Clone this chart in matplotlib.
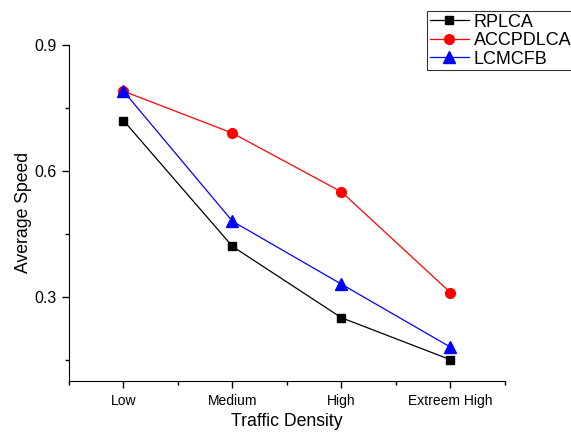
import matplotlib.pyplot as plt

plt.rcParams['font.family'] = ['Liberation Sans', 'DejaVu Sans']

categories = ['Low', 'Medium', 'High', 'Extreem High']
rplca = [0.72, 0.42, 0.25, 0.15]
accpdlca = [0.79, 0.69, 0.55, 0.31]
lcmcfb = [0.79, 0.48, 0.33, 0.18]

fig = plt.figure(figsize=(5.71, 4.34), dpi=100)
ax = fig.add_axes([0.1208, 0.1228, 0.7636, 0.7735])

x = range(len(categories))
ax.plot(x, rplca, '-s', color='black', linewidth=0.9, markersize=6, label='RPLCA')
ax.plot(x, accpdlca, '-o', color='red', linewidth=0.9, markersize=7, label='ACCPDLCA')
ax.plot(x, lcmcfb, '-^', color='blue', linewidth=0.9, markersize=8, label='LCMCFB')

ax.set_xlim(-0.5, 3.5)
ax.set_ylim(0.1, 0.9)
ax.set_xticks(list(x))
ax.set_xticklabels(categories)
ax.set_xticks([-0.5, 0.5, 1.5, 2.5, 3.5], minor=True)
ax.set_yticks([0.3, 0.6, 0.9])
ax.set_yticks([0.15, 0.45, 0.75], minor=True)
ax.spines['top'].set_visible(False)
ax.spines['right'].set_visible(False)
ax.tick_params(which='major', direction='out', length=5, width=1)
ax.tick_params(which='minor', direction='out', length=3, width=1)
ax.tick_params(axis='x', labelsize=10, pad=4.5)
ax.tick_params(axis='y', labelsize=11.5, pad=4)

ax.set_xlabel('Traffic Density', fontsize=12.7, labelpad=4)
ax.set_ylabel('Average Speed', fontsize=12.7, labelpad=1.5)

leg = fig.legend(loc='upper left', bbox_to_anchor=(427 / 571, 1 - 11 / 434),
                 fontsize=13, frameon=True, fancybox=False, edgecolor='black',
                 borderpad=0.15, labelspacing=0.08, handlelength=2.15,
                 handletextpad=0.3, borderaxespad=0)
leg.get_frame().set_linewidth(0.8)

fig.savefig('out.png', dpi=100)
